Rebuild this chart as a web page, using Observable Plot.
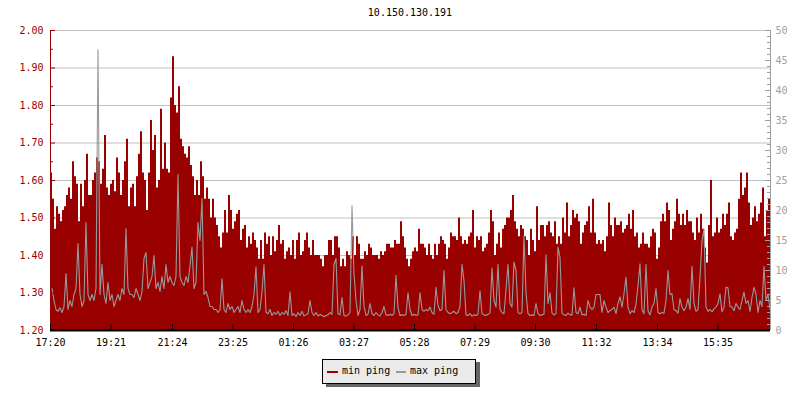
<!DOCTYPE html>
<html><head><meta charset="utf-8">
<script src="https://cdn.jsdelivr.net/npm/d3@7"></script>
<script src="https://cdn.jsdelivr.net/npm/@observablehq/plot@0.6"></script>
<style>
body{margin:0;background:#fff;}
#wrap{position:relative;width:800px;height:400px;font-family:"DejaVu Sans Mono",monospace;overflow:hidden;}
#chart{position:absolute;left:0;top:0;}
#title{position:absolute;left:50px;width:720px;top:6px;text-align:center;font-size:10px;line-height:14px;color:#000;}
#legend{position:absolute;left:322px;top:359px;width:154px;height:25px;box-sizing:border-box;border:1px solid #000;background:#ebebeb;box-shadow:4px 3px 0 #666;font-size:10px;}
#legend .sw{position:absolute;top:11px;height:2px;}
#legend .tx{position:absolute;top:6px;line-height:10px;white-space:pre;color:#000;}
</style></head>
<body>
<div id="wrap">
  <div id="chart"></div>
  <div id="title"></div>
  <div id="legend"></div>
</div>
<script>
const chartTitle = "10.150.130.191";
const seriesNames = ["min ping", "max ping"];
const seriesColors = ["#990000", "#999999"];
const startTime = "17:20";
const stepMinutes = 4;
const spanMinutes = 1440;
const tickLabels = ["17:20","19:21","21:24","23:25","01:26","03:27","05:28","07:29","09:30","11:32","13:34","15:35"];
const leftMajor = [1.2,1.3,1.4,1.5,1.6,1.7,1.8,1.9,2.0];
const leftMinor = [1.25,1.35,1.45,1.55,1.65,1.75,1.85,1.95];
const rightMajor = [0,5,10,15,20,25,30,35,40,45,50];
const rightMinor = [1,2,3,4,6,7,8,9,11,12,13,14,16,17,18,19,21,22,23,24,26,27,28,29,31,32,33,34,36,37,38,39,41,42,43,44,46,47,48,49];

// min ping (left axis), one value per 4 minutes from 17:20
const minPing = [
1.62,1.55,1.47,1.53,1.51,1.49,1.52,1.53,1.56,1.58,1.55,1.65,1.61,1.59,1.49,1.59,1.53,1.60,1.67,1.56,
1.56,1.60,1.62,1.66,1.65,1.59,1.63,1.72,1.58,1.56,1.59,1.60,1.57,1.66,1.62,1.56,1.60,1.65,1.71,1.53,
1.58,1.59,1.53,1.61,1.67,1.73,1.62,1.60,1.52,1.62,1.76,1.68,1.72,1.58,1.60,1.79,1.63,1.70,1.63,1.62,
1.82,1.93,1.80,1.78,1.85,1.71,1.69,1.67,1.66,1.69,1.64,1.61,1.56,1.60,1.56,1.65,1.61,1.55,1.58,1.55,
1.50,1.55,1.50,1.48,1.45,1.42,1.46,1.52,1.46,1.56,1.52,1.47,1.49,1.51,1.52,1.44,1.47,1.48,1.42,1.45,
1.43,1.46,1.44,1.42,1.39,1.44,1.39,1.46,1.43,1.45,1.40,1.45,1.41,1.44,1.48,1.43,1.44,1.39,1.41,1.42,
1.40,1.44,1.39,1.44,1.46,1.40,1.41,1.44,1.46,1.42,1.40,1.44,1.40,1.40,1.40,1.39,1.37,1.40,1.40,1.44,
1.44,1.40,1.45,1.45,1.42,1.37,1.39,1.37,1.41,1.40,1.39,1.45,1.40,1.45,1.43,1.39,1.39,1.41,1.40,1.43,
1.42,1.40,1.40,1.40,1.39,1.41,1.40,1.41,1.43,1.43,1.42,1.42,1.44,1.43,1.43,1.49,1.45,1.42,1.39,1.37,
1.39,1.41,1.42,1.41,1.47,1.43,1.43,1.42,1.40,1.43,1.40,1.39,1.43,1.40,1.43,1.45,1.44,1.43,1.39,1.42,
1.46,1.45,1.45,1.44,1.50,1.45,1.43,1.44,1.43,1.45,1.46,1.52,1.42,1.45,1.44,1.45,1.41,1.42,1.43,1.46,
1.52,1.49,1.40,1.43,1.46,1.42,1.47,1.48,1.50,1.50,1.52,1.56,1.49,1.47,1.45,1.48,1.47,1.45,1.44,1.40,
1.47,1.44,1.41,1.53,1.44,1.48,1.48,1.45,1.48,1.49,1.46,1.45,1.49,1.43,1.45,1.43,1.50,1.46,1.54,1.45,
1.48,1.52,1.50,1.51,1.49,1.43,1.46,1.48,1.49,1.53,1.46,1.55,1.46,1.43,1.44,1.43,1.44,1.41,1.45,1.54,
1.48,1.45,1.50,1.48,1.48,1.49,1.46,1.47,1.48,1.51,1.47,1.52,1.45,1.46,1.42,1.43,1.46,1.43,1.43,1.42,
1.45,1.47,1.46,1.39,1.42,1.49,1.51,1.49,1.54,1.52,1.44,1.47,1.49,1.55,1.51,1.48,1.51,1.48,1.52,1.49,
1.49,1.46,1.44,1.50,1.46,1.51,1.47,1.42,1.38,1.48,1.60,1.45,1.46,1.50,1.46,1.47,1.51,1.48,1.51,1.54,
1.45,1.44,1.46,1.47,1.55,1.62,1.56,1.58,1.62,1.54,1.48,1.50,1.53,1.49,1.51,1.54,1.58,1.45,1.52,1.55
];

// max ping (right axis), same timestamps
const maxPing = [
7,5,3.5,3.2,3.8,3,4,9.5,3.5,5,4,6,7,14.5,6,4,5,18,6,5,
6,5,7,46.8,6,11,6,4.5,8,5,6,4,5,6,5,7,6,17,7,6,
6,5.5,7,6,5,6.5,12,13,7,8,9,12.5,7,8,6.5,9,7,11,8,9,
8,7.5,9,26,9,8,7.5,9,8,10.8,13.9,7,8,18,15,22,6,6.5,5.5,4,
4,3.5,3.5,3,3.5,8.6,3.5,3,4.5,3.5,4,3,3.5,4,3,5,3.5,3,3.5,3,
4,6,10.6,3,3.5,6.5,11,3,2.8,3.5,2.5,3,2.7,3.2,2.5,3,2.7,3.3,2.5,6.4,
2.5,2.8,2.3,3,2.5,3.2,2.4,2.6,2.8,5,3,2.5,3,2.4,2.7,2.5,2.3,2.5,2.6,3,
2.7,11,12,2.8,2.6,5.5,2.5,2.4,2.6,3,20.8,9.5,5,2.5,3.5,10.8,4,2.5,2.7,4.5,
2.8,2.5,3,2.6,2.4,3,4,2.6,2.5,2.7,2.5,2.8,9.2,3.8,2.5,2.6,2.5,2.7,6.3,3.5,
2.5,2.7,2.5,2.6,6.3,3.5,3.2,3.5,3.3,3.9,3,2.7,7.2,4.2,3.3,3.5,10,3.5,3,2.8,
3,3.2,2.8,3,4,11,8.3,2.6,2.5,2.8,2.4,2.6,2.5,2.7,6.6,2.8,2.6,2.5,2.7,2.9,
10.4,5,3.9,11,3.5,3,2.8,6.8,11,4.5,3.9,11.4,10,3,2.8,3,15.8,6.3,2.8,2.5,
2.6,2.5,4.5,2.8,2.5,2.6,2.7,12.6,4.5,6.3,2.9,2.6,2.8,13.9,12.2,2.9,2.6,2.5,2.9,2.6,
2.6,7.1,3,2.8,3.9,2.6,2.7,2.5,5,3.9,3.5,3.9,6,6,6,3,5,3.9,3,3.3,
3.5,3.9,2.8,4.5,5.6,3.9,6.1,8.9,3.9,2.8,3.3,3,4.4,7.5,11.1,3.5,2.8,11,3.3,2.6,
3.9,4.5,7,3,2.8,3,2.9,5,10,6,6.1,3.5,3.3,2.9,5.3,3.9,3.3,3.9,5.3,3.5,
10.7,4.5,3.2,3.5,8.9,15,16.9,3.9,3.2,3.5,3.1,3.6,3.9,4.5,6.1,3.1,3.9,7.2,7.1,4,
3.9,3.3,4.5,3.9,3.5,5,6.4,4.5,5,3.2,5.5,7.2,6,3,5,4,10.7,5,6,3.5
];

const yDom = [leftMajor[0], leftMajor[leftMajor.length-1]];
const rDom = [rightMajor[0], rightMajor[rightMajor.length-1]];
const toLeft = v => yDom[0] + (v - rDom[0]) * (yDom[1]-yDom[0]) / (rDom[1]-rDom[0]);
const toRight = v => rDom[0] + (v - yDom[0]) * (rDom[1]-rDom[0]) / (yDom[1]-yDom[0]);

const base = Date.UTC(2024,0,1);
const hm = s => { const [h,m] = s.split(":").map(Number); return h*60+m; };
const startMin = hm(startTime);
const t0 = base + startMin*60000;
const tEnd = t0 + spanMinutes*60000;
const tickDates = tickLabels.map(s => { let m = hm(s); if (m < startMin) m += 1440; return new Date(base + m*60000); });

const data = minPing.map((v,i) => ({t: new Date(t0 + i*stepMinutes*60000), min: v, max: maxPing[i]}));
const areaData = data.concat([{t: new Date(tEnd), min: minPing[minPing.length-1], max: maxPing[maxPing.length-1]}]);
// gray line points sit in the middle of each 4-minute slot
const lineData = data.map(d => ({t: new Date(+d.t + stepMinutes*30000), max: d.max}));

const W=800, H=400, mL=50, mR=30, mT=30, mB=70;
const iw = W-mL-mR, ih = H-mT-mB;
const red = seriesColors[0], gray = seriesColors[1], rAxis = "#a0a0a0";

const plot = Plot.plot({
  width: W, height: H, marginLeft: mL, marginRight: mR, marginTop: mT, marginBottom: mB,
  style: {fontFamily: "DejaVu Sans Mono, monospace", fontSize: "10px", background: "transparent", overflow: "visible"},
  x: {type: "utc", domain: [new Date(t0), new Date(tEnd)]},
  y: {domain: yDom},
  marks: [
    Plot.ruleY(leftMajor.slice(1), {stroke: "#c0c0c0", strokeWidth: 1}),
    Plot.areaY(areaData, {x: "t", y1: d => yDom[0], y2: "min", curve: "step-after", fill: red}),
    Plot.lineY(lineData, {x: "t", y: d => toLeft(d.max), curve: "linear", stroke: gray, strokeWidth: 1.1, dx: 0.5}),
    Plot.ruleX([new Date(t0)], {stroke: red}),
    Plot.ruleX([new Date(tEnd)], {stroke: rAxis}),
    Plot.ruleY(leftMajor, {stroke: red, insetRight: iw-5}),
    Plot.ruleY(leftMinor, {stroke: red, insetRight: iw-3}),
    Plot.ruleY(rightMajor.map(toLeft), {stroke: rAxis, insetLeft: iw-5}),
    Plot.ruleY(rightMinor.map(toLeft), {stroke: rAxis, insetLeft: iw-3}),
    Plot.ruleX(tickDates, {stroke: "#000", insetTop: ih-6}),
    Plot.ruleY([yDom[0]], {stroke: "#000", strokeWidth: 2}),
    Plot.axisY({anchor: "left", ticks: leftMajor, tickSize: 0, tickPadding: 7, tickFormat: d3.format(".2f"), fill: red, label: null}),
    Plot.axisY({anchor: "right", ticks: rightMajor.map(toLeft), tickSize: 0, tickPadding: 5, tickFormat: v => String(Math.round(toRight(v))), fill: rAxis, label: null}),
    Plot.axisX({anchor: "bottom", ticks: tickDates, tickSize: 0, tickPadding: 8, tickFormat: d3.utcFormat("%H:%M"), fill: "#000", label: null})
  ]
});
document.getElementById("chart").appendChild(plot);
document.getElementById("title").textContent = chartTitle;

const lg = document.getElementById("legend");
const items = [{sw: 4, swW: 11, tx: 19}, {sw: 73, swW: 10, tx: 87}];
items.forEach((it, i) => {
  const s = document.createElement("div"); s.className = "sw";
  s.style.left = it.sw + "px"; s.style.width = it.swW + "px"; s.style.background = seriesColors[i];
  const t = document.createElement("div"); t.className = "tx";
  t.style.left = it.tx + "px"; t.textContent = seriesNames[i];
  lg.appendChild(s); lg.appendChild(t);
});
</script>
</body></html>
